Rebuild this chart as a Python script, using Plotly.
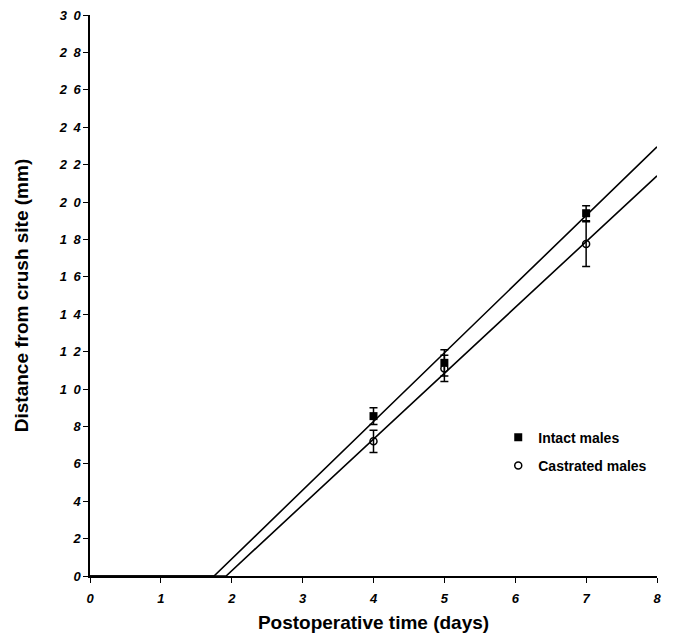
import plotly.graph_objects as go

days = [4, 5, 7]
intact_mean = [8.55, 11.4, 19.4]
intact_err = [0.45, 0.7, 0.4]
castrated_mean = [7.2, 11.1, 17.75]
castrated_err = [0.6, 0.7, 1.2]

intact_fit_x = [0, 1.75, 8]
intact_fit_y = [0, 0, 22.95]
castrated_fit_x = [0, 1.92, 8]
castrated_fit_y = [0, 0, 21.4]

x_ticks = [0, 1, 2, 3, 4, 5, 6, 7, 8]
x_ticktext = ["0", "1", "2", "3", "4", "5", "6", "7", "8"]
y_ticks = list(range(0, 31, 2))
y_ticktext = ["0", "2", "4", "6", "8", "1\u20020", "1\u20022", "1\u20024", "1\u20026", "1\u20028",
              "2\u20020", "2\u20022", "2\u20024", "2\u20026", "2\u20028", "3\u20020"]

FONT = "Liberation Sans, Arial, sans-serif"

fig = go.Figure()
fig.add_trace(go.Scatter(x=intact_fit_x, y=intact_fit_y, mode="lines",
                         line=dict(color="black", width=1.6), showlegend=False, hoverinfo="skip"))
fig.add_trace(go.Scatter(x=castrated_fit_x, y=castrated_fit_y, mode="lines",
                         line=dict(color="black", width=1.6), showlegend=False, hoverinfo="skip"))
fig.add_trace(go.Scatter(
    x=days, y=intact_mean, mode="markers", name="Intact males", legendgroup="a",
    marker=dict(symbol="square", size=8, color="black"),
    error_y=dict(type="data", array=intact_err, color="black", thickness=1.5, width=4)))
fig.add_trace(go.Scatter(
    x=days, y=castrated_mean, mode="markers", name="Castrated males", legendgroup="b",
    marker=dict(symbol="circle-open", size=7, color="black", line=dict(width=1.5)),
    error_y=dict(type="data", array=castrated_err, color="black", thickness=1.5, width=4)))

fig.update_layout(
    width=694, height=634,
    margin=dict(l=82, r=45, t=7, b=66, autoexpand=False),
    plot_bgcolor="white", paper_bgcolor="white",
    font=dict(family=FONT, color="black"),
    legend=dict(x=0.72, y=0.275, xanchor="left", yanchor="top",
                font=dict(family=FONT, size=14, color="black", weight="bold"),
                bgcolor="rgba(0,0,0,0)", itemwidth=30, tracegroupgap=7),
    xaxis=dict(range=[0, 8], tickvals=x_ticks, ticktext=x_ticktext, automargin=False,
               showgrid=False, zeroline=False, showline=True, linecolor="black", linewidth=1.5,
               ticks="outside", ticklen=5, tickwidth=1.2, tickcolor="black",
               ticklabelstandoff=5, ticklabeloverflow="allow",
               tickfont=dict(family=FONT, size=13, style="italic", weight="bold"),
               title=dict(text="Postoperative time (days)", standoff=10,
                          font=dict(family=FONT, size=19, weight="bold"))),
    yaxis=dict(range=[0, 30], tickvals=y_ticks, ticktext=y_ticktext, automargin=False,
               showgrid=False, zeroline=False, showline=True, linecolor="black", linewidth=1.5,
               ticks="outside", ticklen=5, tickwidth=1.2, tickcolor="black",
               ticklabeloverflow="allow",
               tickfont=dict(family=FONT, size=13, style="italic", weight="bold"),
               title=dict(text="Distance from crush site (mm)", standoff=25,
                          font=dict(family=FONT, size=19, weight="bold"))),
)

fig.write_html("out.html")
